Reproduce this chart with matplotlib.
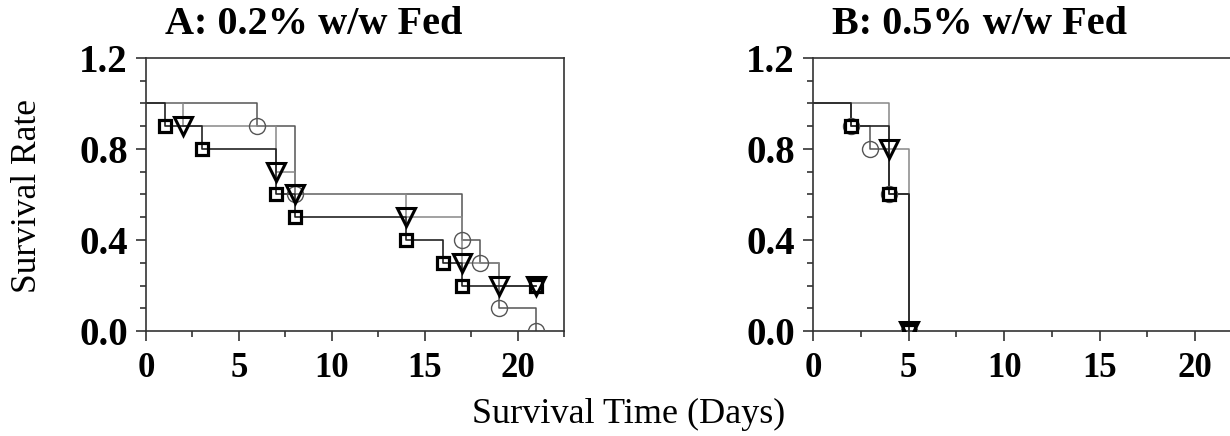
import matplotlib
matplotlib.use("Agg")
import matplotlib.pyplot as plt
from matplotlib.ticker import MultipleLocator

plt.rcParams['font.family'] = ['Liberation Serif', 'DejaVu Serif']

# panel A: 0.2% w/w fed
a_circ_t = [0, 6, 8, 17, 18, 19, 21]
a_circ_s = [1.0, 0.9, 0.6, 0.4, 0.3, 0.1, 0.0]
a_tri_t = [0, 2, 7, 8, 14, 17, 19, 21]
a_tri_s = [1.0, 0.9, 0.7, 0.6, 0.5, 0.3, 0.2, 0.2]
a_sq_t = [0, 1, 3, 7, 8, 14, 16, 17, 21]
a_sq_s = [1.0, 0.9, 0.8, 0.6, 0.5, 0.4, 0.3, 0.2, 0.2]

# panel B: 0.5% w/w fed
b_circ_t = [0, 2, 3, 4, 5]
b_circ_s = [1.0, 0.9, 0.8, 0.6, 0.0]
b_tri_t = [0, 4, 5]
b_tri_s = [1.0, 0.8, 0.0]
b_sq_t = [0, 2, 4, 5]
b_sq_s = [1.0, 0.9, 0.6, 0.0]

titles = ["A: 0.2% w/w Fed", "B: 0.5% w/w Fed"]
yticks = [0.0, 0.4, 0.8, 1.2]
xticks = [0, 5, 10, 15, 20]

fig = plt.figure(figsize=(12.3, 4.36), dpi=100)
axA = fig.add_axes([146 / 1230, 105 / 436, 418 / 1230, 273 / 436])
axB = fig.add_axes([813 / 1230, 105 / 436, 430 / 1230, 273 / 436])

panels = [
    (axA, (a_circ_t, a_circ_s), (a_tri_t, a_tri_s), (a_sq_t, a_sq_s)),
    (axB, (b_circ_t, b_circ_s), (b_tri_t, b_tri_s), (b_sq_t, b_sq_s)),
]

for ax, circ, tri, sq in panels:
    # step lines
    ax.step(circ[0], circ[1], where='post', color='#555555', lw=1.1, zorder=2)
    ax.step(tri[0], tri[1], where='post', color='#888888', lw=1.1, zorder=2)
    ax.step(sq[0], sq[1], where='post', color='#222222', lw=1.2, zorder=2)
    # markers at events
    ax.plot(circ[0][1:], circ[1][1:], ls='none', marker='o', ms=11.5,
            mfc='none', mec='#555555', mew=1.0, zorder=3)
    ax.plot(tri[0][1:], tri[1][1:], ls='none', marker='v', ms=12.5,
            mfc='none', mec='black', mew=2.2, zorder=4)
    ax.plot(sq[0][1:], sq[1][1:], ls='none', marker='s', ms=9,
            mfc='none', mec='black', mew=2.3, zorder=4)

    ax.set_xlim(0, 22.5)
    ax.set_ylim(0, 1.2)
    ax.set_xticks(xticks)
    ax.set_yticks(yticks)
    ax.set_yticklabels([f"{v:.1f}" for v in yticks])
    ax.xaxis.set_minor_locator(MultipleLocator(2.5))
    ax.yaxis.set_minor_locator(MultipleLocator(0.1))
    ax.tick_params(axis='both', which='major', direction='out', length=7,
                   width=1.2, color='#333333')
    ax.tick_params(axis='both', which='minor', direction='out', length=4,
                   width=1.2, color='#333333')
    ax.tick_params(axis='y', which='major', labelsize=28, pad=6)
    ax.tick_params(axis='x', which='major', labelsize=25, pad=8)
    for lab in ax.get_xticklabels() + ax.get_yticklabels():
        lab.set_fontweight('bold')
    for sp in ax.spines.values():
        sp.set_color('#333333')
        sp.set_linewidth(1.2)

fig.text(314 / 1230, 1 - 25 / 436, titles[0], ha='center', va='center',
         fontsize=29, fontweight='bold')
fig.text(980 / 1230, 1 - 25 / 436, titles[1], ha='center', va='center',
         fontsize=29, fontweight='bold')
fig.text(28 / 1230, 1 - 196 / 436, "Survival Rate", rotation=90,
         ha='center', va='center', fontsize=25.5)
fig.text(629 / 1230, 1 - 414 / 436, "Survival Time (Days)",
         ha='center', va='center', fontsize=26)

fig.savefig('out.png', dpi=100)
